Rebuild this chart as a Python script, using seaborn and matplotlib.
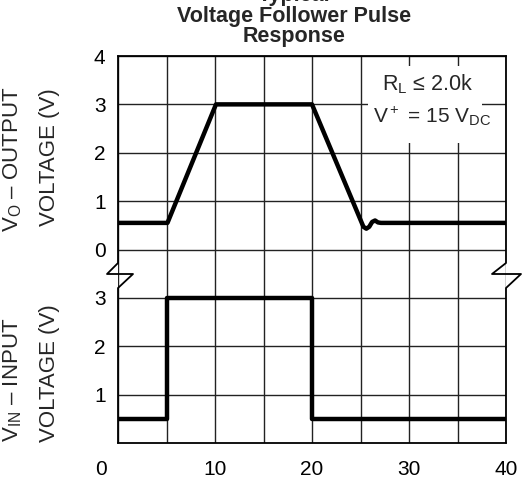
import matplotlib
matplotlib.use('Agg')
import matplotlib.pyplot as plt
from matplotlib import font_manager
from matplotlib.patches import Rectangle
import matplotlib.transforms as mtransforms
import seaborn as sns
import numpy as np

# input pulse (V)
t_in = [0, 5.1, 5.1, 20.0, 20.0, 40]
v_in = [0.5, 0.5, 3.0, 3.0, 0.5, 0.5]

# output of the follower (V)
t_out = [0, 5.1, 10.1, 20.0, 25.3, 25.6, 25.9, 26.2, 26.5, 26.8, 27.1, 40]
v_out = [0.55, 0.55, 3.0, 3.0, 0.47, 0.43, 0.47, 0.57, 0.60, 0.56, 0.55, 0.55]

x_ticks = [0, 10, 20, 30, 40]
in_ticks = [1, 2, 3]
out_ticks = [0, 1, 2, 3, 4]
OFFSET = 4  # output panel is stacked above the input panel, with a break

sns.set_theme(style='white')
names = {f.name for f in font_manager.fontManager.ttflist}
narrow = 'Liberation Sans Narrow' if 'Liberation Sans Narrow' in names else 'Liberation Sans'
plt.rcParams['font.family'] = [narrow, 'DejaVu Sans']
plt.rcParams['mathtext.fontset'] = 'custom'
plt.rcParams['mathtext.rm'] = narrow

fig = plt.figure(figsize=(5.22, 4.87), dpi=100)
W, H = 522, 487
L, R, T, B = 118, 506, 56, 443
ax = fig.add_axes([L / W, 1 - B / H, (R - L) / W, (B - T) / H])

sns.lineplot(x=t_in, y=v_in, estimator=None, sort=False, ax=ax,
             color='black', lw=3.2, zorder=3)
sns.lineplot(x=t_out, y=[v + OFFSET for v in v_out], estimator=None, sort=False,
             ax=ax, color='black', lw=3.2, zorder=3)

ax.set_xlim(0, 40)
ax.set_ylim(0, 8)
ax.set_xticks(np.arange(0, 41, 5))
ax.set_xticklabels([str(x) if x in x_ticks else '' for x in np.arange(0, 41, 5)])
ypos = in_ticks + [v + OFFSET for v in out_ticks]
ax.set_yticks(ypos)
ax.set_yticklabels([str(v) for v in in_ticks] + [str(v) for v in out_ticks])
ax.tick_params(length=0, labelsize=15, colors='black')
ax.tick_params(axis='x', pad=12)
ax.tick_params(axis='y', pad=9)
ax.grid(True, color='#222222', lw=1.0)
ax.set_xlabel('')
ax.set_ylabel('')

# shift the "0" x label left like the original
lab0 = ax.get_xticklabels()[0]
lab0.set_transform(lab0.get_transform() + mtransforms.ScaledTranslation(-17 / 100, 0, fig.dpi_scale_trans))

for side in ['left', 'right']:
    ax.spines[side].set_visible(False)
for side in ['top', 'bottom']:
    ax.spines[side].set_color('black')
    ax.spines[side].set_linewidth(1.3)


def frac(px, py):
    return (px - L) / (R - L), (B - py) / (B - T)


# frame sides with the break marks
for pts in ([(118, 56), (118, 263), (107, 274), (133, 274), (118, 288), (118, 443)],
            [(506, 56), (506, 263), (492, 274), (521, 274), (506, 288), (506, 443)]):
    xs, ys = zip(*[frac(*p) for p in pts])
    ax.plot(xs, ys, transform=ax.transAxes, color='black', lw=1.3, clip_on=False, zorder=4)

# condition box
ax.add_patch(Rectangle((25.8, 6.2), 11.7, 1.6, fc='white', ec='none', zorder=1.5))
ax.text(31.9, 7.42, r'$\mathrm{R_L}$ ≤ 2.0k', ha='center', va='center', fontsize=15.5, zorder=4)
ax.text(32.4, 6.76, r'$\mathrm{V^+}$ = 15 $\mathrm{V_{DC}}$', ha='center', va='center', fontsize=15, zorder=4)

# axis titles
fig.text(13 / W, 1 - 159 / H, r'$\mathrm{V_O}$ – OUTPUT', rotation=90, ha='center', va='center', fontsize=16)
fig.text(50 / W, 1 - 157 / H, 'VOLTAGE (V)', rotation=90, ha='center', va='center', fontsize=16)
fig.text(13 / W, 1 - 380 / H, r'$\mathrm{V_{IN}}$ – INPUT', rotation=90, ha='center', va='center', fontsize=16)
fig.text(50 / W, 1 - 373 / H, 'VOLTAGE (V)', rotation=90, ha='center', va='center', fontsize=16)

# title (first line runs off the top edge, as in the original)
for txt, base in [('Typical', 1), ('Voltage Follower Pulse', 22), ('Response', 42)]:
    fig.text(294 / W, 1 - base / H, txt, ha='center', va='baseline', fontsize=15.5,
             fontweight='bold', family='Liberation Sans')

fig.savefig('out.png', dpi=100)
